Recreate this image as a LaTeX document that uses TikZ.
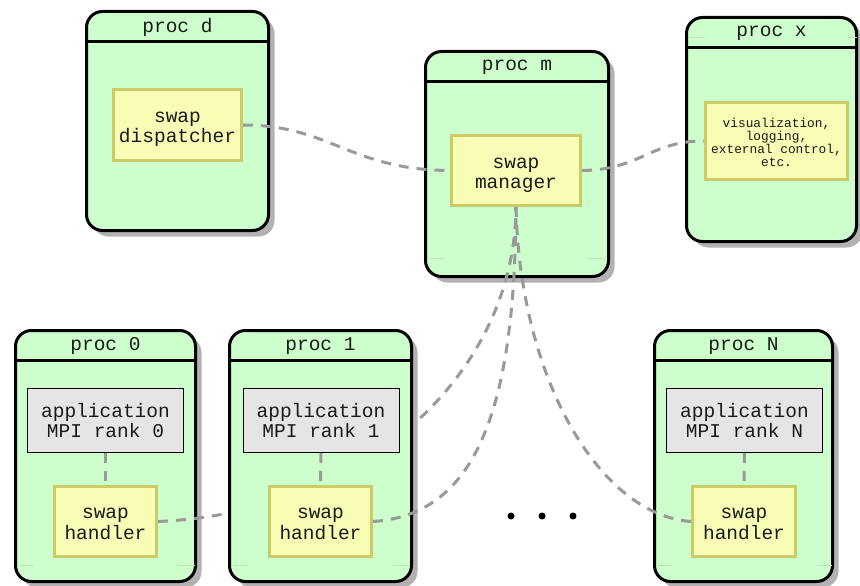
\documentclass[tikz,border=0pt]{standalone}
\usepackage{fontspec}
\setmonofont{Liberation Mono}
\usetikzlibrary{shadows}

\definecolor{procfill}{RGB}{204,255,204}
\definecolor{procshadow}{RGB}{178,178,178}
\definecolor{swapfill}{RGB}{248,252,180}
\definecolor{swapdraw}{RGB}{204,204,102}
\definecolor{appfill}{RGB}{229,229,229}
\definecolor{linkgrey}{RGB}{153,153,153}
\definecolor{ink}{RGB}{26,26,26}
\definecolor{ghost}{RGB}{184,228,184}

% centred lines, drawn a little below the box centre (box size kept)
\newcommand{\cellstack}[1]{\raisebox{-3.5pt}[\height][\depth]{\begin{tabular}{@{}c@{}}#1\end{tabular}}}

\tikzset{
  procbox/.style={draw=black, line width=3pt, fill=procfill, rounded corners=16pt,
    inner sep=0pt,
    general shadow={fill=procshadow, shadow xshift=6pt, shadow yshift=-6pt}},
  headline/.style={draw=black, line width=3pt},
  proctitle/.style={font=\ttfamily\fontsize{19.5}{19.5}\selectfont, text=ink, inner sep=0pt},
  swapbox/.style={draw=swapdraw, line width=3pt, fill=swapfill, inner sep=0pt,
    text=ink, font=\ttfamily\fontsize{19.5}{20}\selectfont},
  smallbox/.style={swapbox, font=\ttfamily\fontsize{12.8}{13}\selectfont},
  appbox/.style={draw=black, line width=1pt, fill=appfill, inner sep=0pt,
    align=center, text=ink, font=\ttfamily\fontsize{19.5}{20}\selectfont},
  link/.style={draw=linkgrey, line width=3pt, dash pattern=on 10pt off 8pt},
  ghostline/.style={draw=ghost, line width=0.8pt},
  dotmark/.style={circle, fill=black, inner sep=0pt, minimum size=7pt},
}

\begin{document}
\begin{tikzpicture}[x=1pt, y=-1pt]
\useasboundingbox (0,0) rectangle (860,586);
\clip (0,0) rectangle (860,586);

% ---- process frames (proc 1 is drawn later, over the rank-0 link) ----
\node[procbox, minimum width=182pt, minimum height=219pt] (pd) at (177.5,121) {};
\node[procbox, minimum width=183pt, minimum height=225pt] (pm) at (517,164) {};
\node[procbox, minimum width=170pt, minimum height=224pt] (px) at (771.5,129.5) {};
\node[procbox, minimum width=180pt, minimum height=251pt] (p0) at (105.5,456) {};
\node[procbox, minimum width=178pt, minimum height=251pt] (pN) at (743.5,456) {};

\foreach \p in {pd,pm,px,p0,pN}
  \draw[headline] ([yshift=-31.5pt]\p.north west) -- ([yshift=-31.5pt]\p.north east);

\node[proctitle] (tpd) at ([yshift=-17pt]pd.north) {proc d};
\node[proctitle] (tpm) at ([yshift=-17pt]pm.north) {proc m};
\node[proctitle] (tpx) at ([yshift=-17pt]px.north) {proc x};
\node[proctitle] (tp0) at ([yshift=-17pt]p0.north) {proc 0};
\node[proctitle] (tpN) at ([yshift=-17pt]pN.north) {proc N};

% faint compartment rules
\draw[ghostline] (430,258) -- (444,258) (588,258) -- (605,258);
\draw[ghostline] (688,37) -- (705,37) (848,37) -- (857,37);
\draw[ghostline] (20,565) -- (34,565) (178,565) -- (195,565);
\draw[ghostline] (656,565) -- (672,565) (817,565) -- (832,565);

% ---- components ----
\node[swapbox, minimum width=128pt, minimum height=71pt] (disp) at (177.5,125) {\cellstack{swap\\dispatcher}};
\node[swapbox, minimum width=129pt, minimum height=70pt] (man) at (516,170.5) {\cellstack{swap\\manager}};
\node[smallbox, minimum width=142pt, minimum height=77pt] (vis) at (776.5,141)
  {\cellstack{visualization,\\logging,\\external control,\\etc.}};
\node[appbox, minimum width=156pt, minimum height=64pt] (app0) at (105.5,420.5) {application\\MPI rank 0};
\node[swapbox, minimum width=102pt, minimum height=70pt] (h0) at (105.5,521.5) {\cellstack{swap\\handler}};
\node[appbox, minimum width=156pt, minimum height=64pt] (appN) at (744.5,420.5) {application\\MPI rank N};
\node[swapbox, minimum width=103pt, minimum height=70pt] (hN) at (744,521.5) {\cellstack{swap\\handler}};

% rank-0 link runs behind proc 1
\draw[link] (h0.east) .. controls (370,512) and (515,370) .. (man.south);

% ---- proc 1 ----
\node[procbox, minimum width=182pt, minimum height=251pt] (p1) at (320.5,456) {};
\draw[headline] ([yshift=-31.5pt]p1.north west) -- ([yshift=-31.5pt]p1.north east);
\node[proctitle] (tp1) at ([yshift=-17pt]p1.north) {proc 1};
\draw[ghostline] (233,565) -- (248,565) (393,565) -- (410,565);
\node[appbox, minimum width=156pt, minimum height=64pt] (app1) at (321,420.5) {application\\MPI rank 1};
\node[swapbox, minimum width=102pt, minimum height=70pt] (h1) at (320.5,521.5) {\cellstack{swap\\handler}};

% ---- links ----
\draw[link] (disp.east) .. controls (330,125) and (350,170) .. (man.west);
\draw[link] (man.east) .. controls (640,170) and (650,141) .. (vis.west);
\draw[link] (h1.east) .. controls (480,515) and (515,400) .. (man.south);
\draw[link] (hN.west) .. controls (600,515) and (520,380) .. (man.south);
\draw[link] (app0.south) -- (h0.north);
\draw[link] (app1.south) -- (h1.north);
\draw[link] (appN.south) -- (hN.north);

% ellipsis between proc 1 and proc N
\node[dotmark] (e1) at (511,516) {};
\node[dotmark] (e2) at (542,516) {};
\node[dotmark] (e3) at (573,516) {};
\end{tikzpicture}
\end{document}
